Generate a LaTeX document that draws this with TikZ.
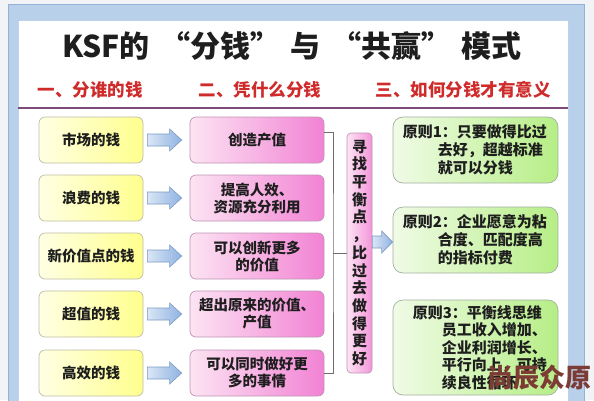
\documentclass[tikz,border=0pt]{standalone}
\usepackage{fontspec}
\setmainfont{Noto Sans CJK SC}
\usetikzlibrary{calc}
\definecolor{outerbg}{HTML}{F1F3F6}
\definecolor{bandblue}{HTML}{B9D0EA}
\definecolor{banddark}{HTML}{94B2D8}
\definecolor{headline}{HTML}{7E4A78}
\definecolor{subred}{HTML}{D02B2B}
\definecolor{txt}{HTML}{1E1E1E}
\definecolor{yl}{HTML}{FFFFE4}
\definecolor{yr}{HTML}{FFFF8E}
\definecolor{ybd}{HTML}{BDBDA6}
\definecolor{pl}{HTML}{FCE4F3}
\definecolor{pr}{HTML}{F282D4}
\definecolor{pbd}{HTML}{BE95B5}
\definecolor{gl}{HTML}{F0FBE6}
\definecolor{gr}{HTML}{B6EE86}
\definecolor{gbd}{HTML}{A3AEA3}
\definecolor{al}{HTML}{DAE6F5}
\definecolor{ar}{HTML}{8FB3E2}
\definecolor{abd}{HTML}{7C9BC5}
\definecolor{brkc}{HTML}{6E6E6E}
\definecolor{wmc}{HTML}{7D3B35}
\newcommand\blockarrow[3]{%
  \path[barrowst] let \p1=(#1), \p2=(#2) in
    (\x1,\y1+6pt) -- (\x2-#3,\y1+6pt) -- (\x2-#3,\y1+11pt) -- (\x2,\y1)
    -- (\x2-#3,\y1-11pt) -- (\x2-#3,\y1-6pt) -- (\x1,\y1-6pt) -- cycle;}
\newcommand\oq{\hspace{0.35em}“}
\newcommand\cq{”\hspace{0.35em}}
\begin{document}
\begin{tikzpicture}[x=1pt,y=-1pt,
  boxtxt/.style={font=\bfseries\fontsize{14.5}{17}\selectfont, text=txt, align=center, inner sep=0pt},
  ybox/.style={boxtxt, draw=ybd, line width=0.7pt, rounded corners=6pt, left color=yl, right color=yr, minimum width=104pt, minimum height=46pt},
  pbox/.style={boxtxt, draw=pbd, line width=0.7pt, rounded corners=6pt, left color=pl, right color=pr, minimum width=134pt, minimum height=46pt},
  vbox/.style={boxtxt, font=\bfseries\fontsize{15}{17.7}\selectfont, draw=pbd, line width=0.7pt, rounded corners=4pt, left color=pl, right color=pr!85, minimum width=25pt, minimum height=240pt},
  gbox/.style={draw=gbd, line width=0.7pt, rounded corners=10pt, left color=gl, right color=gr, minimum width=165pt},
  gtext/.style={font=\bfseries\fontsize{15}{18}\selectfont, text=txt, align=left, inner sep=0pt, anchor=west},
  subt/.style={font=\bfseries\fontsize{17.5}{17.5}\selectfont, text=subred, inner sep=0pt},
  barrowst/.style={draw=abd, line width=0.6pt, left color=al, right color=ar},
  brk/.style={draw=brkc, line width=0.8pt}]
\useasboundingbox (0,0) rectangle (594,400);
% frame
\fill[outerbg] (0,0) rectangle (594,400);
\filldraw[fill=bandblue, draw=banddark, line width=0.8pt] (8,4) rectangle (584,404);
\filldraw[fill=white, draw=banddark!60, line width=0.5pt] (18,20) rectangle (568,404);
\draw[headline, line width=1.5pt] (18,108) -- (568,108);
% title and subtitles
\node[font=\bfseries\fontsize{30}{30}\selectfont, text=txt, inner sep=0pt] (title) at (292,46) {KSF的\oq 分钱\cq 与\oq 共赢\cq 模式};
\node[subt] (s1) at (90,90) {一、分谁的钱};
\node[subt] (s2) at (260,90) {二、凭什么分钱};
\node[subt] (s3) at (463,90) {三、如何分钱才有意义};
% left column
\node[ybox] (y1) at (91,140) {市场的钱};
\node[ybox] (y2) at (91,198) {浪费的钱};
\node[ybox] (y3) at (91,256) {新价值点的钱};
\node[ybox] (y4) at (91,314) {超值的钱};
\node[ybox] (y5) at (91,373) {高效的钱};
% middle column
\node[pbox] (p1) at (257,140) {创造产值};
\node[pbox] (p2) at (257,198) {提高人效、\\资源充分利用};
\node[pbox] (p3) at (257,256) {可以创新更多\\的价值};
\node[pbox] (p4) at (257,314) {超出原来的价值、\\产值};
\node[pbox] (p5) at (257,373) {可以同时做好更\\多的事情};
% arrows
\foreach \i in {1,...,5}{\blockarrow{$(y\i.east)+(4,0)$}{$(p\i.west)+(-8,0)$}{12pt}}
% vertical box
\node[vbox] (vb) at (359.5,253) {寻\\找\\平\\衡\\点\\，\\比\\过\\去\\做\\得\\更\\好};
\coordinate (bx) at (333,253);
\draw[brk] (p1.east |- vb.north) -| (bx) |- (p5.east |- vb.south);
\draw[brk] (bx) -- (vb.west);
% right column
\node[gbox, minimum height=66pt] (g1) at (475.5,150) {};
\node[gbox, minimum height=66pt] (g2) at (475.5,240) {};
\node[gbox, minimum height=95pt] (g3) at (475.5,347.5) {};
\node[gtext] (g1t) at ([xshift=10pt]g1.west) {原则1：只要做得比过\\\hspace*{35pt}去好，超越标准\\\hspace*{35pt}就可以分钱};
\node[gtext] (g2t) at ([xshift=10pt]g2.west) {原则2：企业愿意为粘\\\hspace*{35pt}合度、匹配度高\\\hspace*{35pt}的指标付费};
\node[gtext, font=\bfseries\fontsize{15}{17.5}\selectfont] (g3t) at ([xshift=20pt]g3.west) {原则3：平衡线思维\\\hspace*{29pt}员工收入增加、\\\hspace*{29pt}企业利润增长、\\\hspace*{29pt}平行向上，可持\\\hspace*{29pt}续良性循环};
\blockarrow{$(vb.east)+(0,-11)$}{$(g2.west)+(0,0)$}{11pt}
% watermark
\node[font=\bfseries\fontsize{26}{26}\selectfont, text=wmc, inner sep=0pt] (wm) at (539,378) {尚辰众原};
\end{tikzpicture}
\end{document}
